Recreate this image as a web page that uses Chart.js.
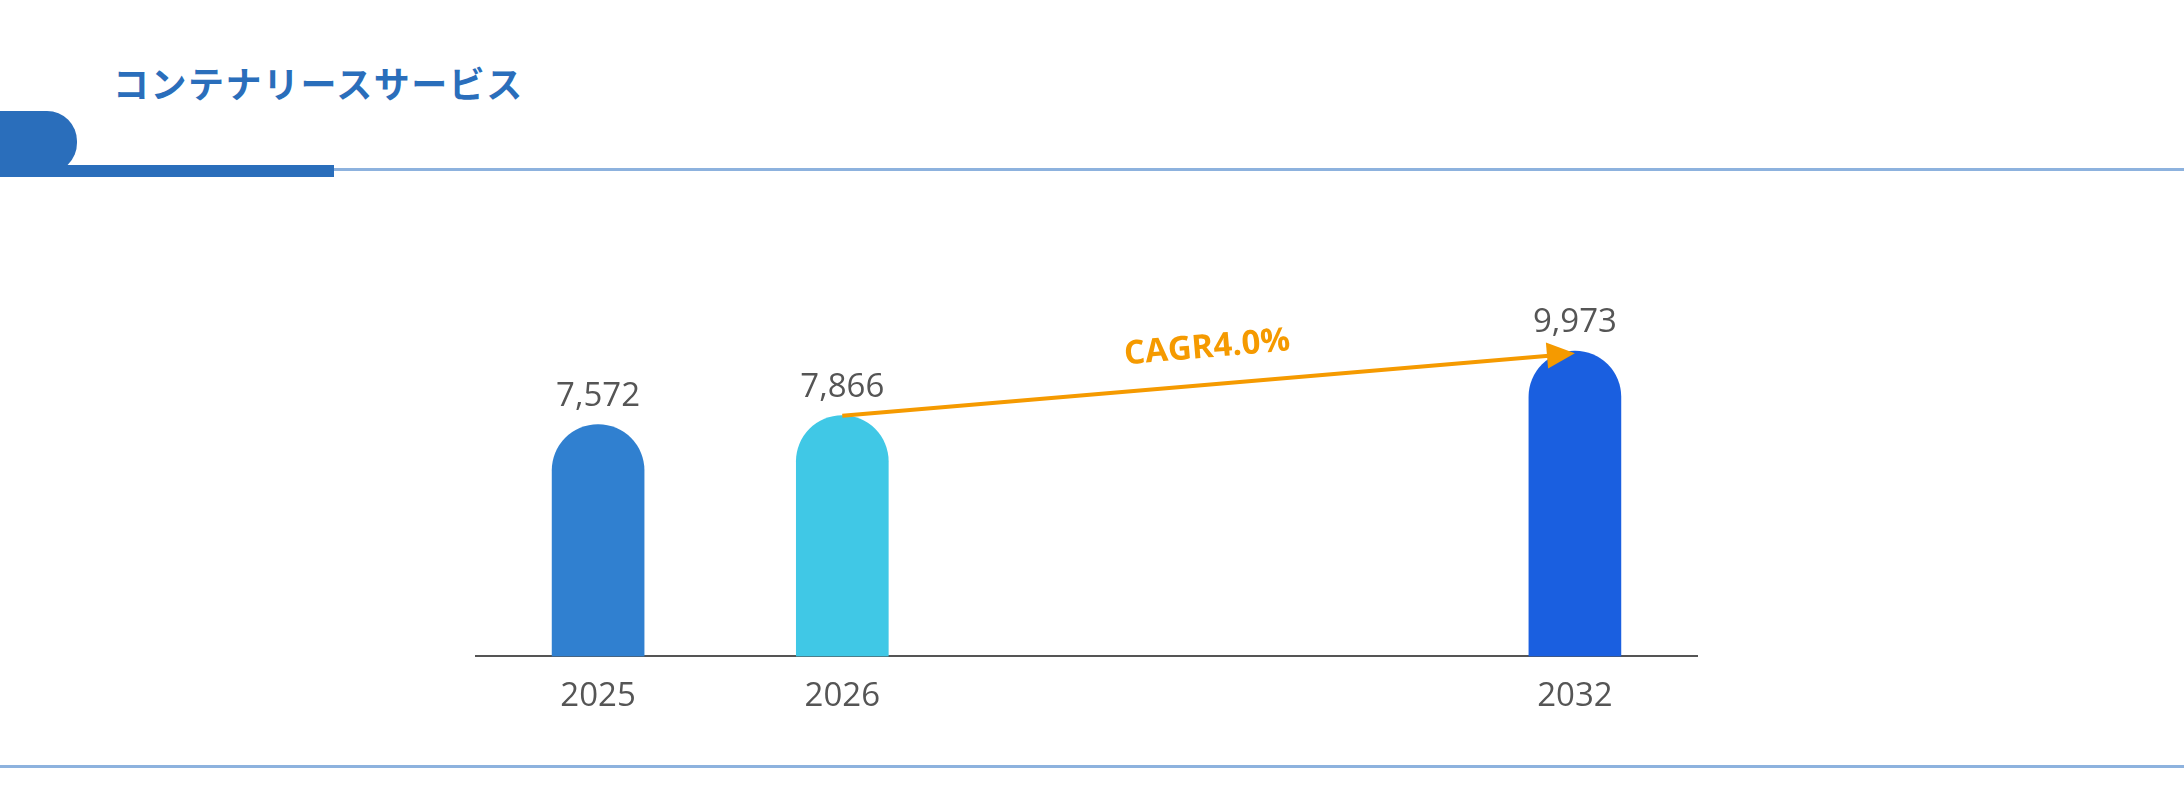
<!DOCTYPE html>
<html><head><meta charset="utf-8">
<script src="https://cdn.jsdelivr.net/npm/chart.js@4.4.1/dist/chart.umd.min.js"></script>
<style>
html,body{margin:0;padding:0;background:#fff;width:2184px;height:796px;overflow:hidden;position:relative;font-family:"Noto Sans CJK JP","Noto Sans",sans-serif}
#title{position:absolute;left:113px;top:56px;font-size:36px;font-weight:bold;color:#2A6EBB;letter-spacing:1.5px}
#tab{position:absolute;left:0;top:111px;width:77px;height:62px;background:#2A6EBB;border-radius:0 30px 30px 0}
#thick{position:absolute;left:0;top:165px;width:334px;height:12px;background:#2A6EBB}
#thin{position:absolute;left:0;top:168px;width:2184px;height:3px;background:#8DB2DE}
#bottom{position:absolute;left:0;top:765px;width:2184px;height:3px;background:#8DB2DE}
#wrap{position:absolute;left:0;top:0;width:2184px;height:796px}
</style></head><body>
<div id="thin"></div><div id="tab"></div><div id="thick"></div>
<div id="title">コンテナリースサービス</div>
<div id="bottom"></div>
<div id="wrap"><canvas id="c"></canvas></div>
<script>
const categories = ['2025','2026','','','2032'];
const values = [7572, 7866, null, null, 9973];
const barColors = ['#3080D0','#40C8E6','#1A5FE0','#1A5FE0','#1A5FE0'];
const cagrLabel = 'CAGR4.0%';

const labelsPlugin = {
  id:'labels',
  afterDatasetsDraw(chart){
    const ctx = chart.ctx, meta = chart.getDatasetMeta(0);
    ctx.save();
    ctx.font = '33px "Open Sans", "DejaVu Sans", sans-serif';
    ctx.fillStyle = '#555';
    ctx.textAlign = 'center'; ctx.textBaseline = 'bottom';
    meta.data.forEach((b,i)=>{
      if(values[i]==null) return;
      ctx.fillText(values[i].toLocaleString('en-US'), b.x, b.y - 12);
    });
    const a = meta.data[1], c = meta.data[4];
    const x1=a.x, y1=a.y, x2=c.x, y2=c.y+2;
    ctx.strokeStyle = '#F59A00'; ctx.fillStyle = '#F59A00'; ctx.lineWidth = 4;
    ctx.beginPath(); ctx.moveTo(x1,y1); ctx.lineTo(x2-20,y2+2); ctx.stroke();
    const ang = Math.atan2(y2-y1, x2-x1);
    ctx.save(); ctx.translate(x2,y2); ctx.rotate(ang);
    ctx.beginPath(); ctx.moveTo(0,0); ctx.lineTo(-28,-13); ctx.lineTo(-28,13); ctx.closePath(); ctx.fill();
    ctx.restore();
    ctx.save();
    ctx.translate((x1+x2)/2, (y1+y2)/2 - 20); ctx.rotate(ang);
    ctx.font = 'bold 33px "Open Sans", "DejaVu Sans", sans-serif';
    ctx.textAlign='center'; ctx.textBaseline='bottom';
    ctx.fillText(cagrLabel, 0, 0);
    ctx.restore();
    ctx.restore();
  }
};

new Chart(document.getElementById('c'), {
  type:'bar',
  data:{labels:categories, datasets:[{data:values, backgroundColor:barColors,
    barThickness:92, borderRadius:{topLeft:46, topRight:46, bottomLeft:0, bottomRight:0}, borderSkipped:'bottom'}]},
  options:{
    responsive:true, maintainAspectRatio:false, animation:false,
    layout:{padding:{left:476, right:487, top:208, bottom:60}},
    plugins:{legend:{display:false}, tooltip:{enabled:false}},
    scales:{
      x:{grid:{display:false, drawTicks:false}, border:{display:true, color:'#555', width:2},
         ticks:{padding:20, color:'#555', font:{size:33, family:'"Open Sans", "DejaVu Sans", sans-serif'}}},
      y:{display:false, min:0, max:14650}
    }
  },
  plugins:[labelsPlugin]
});
</script></body></html>
